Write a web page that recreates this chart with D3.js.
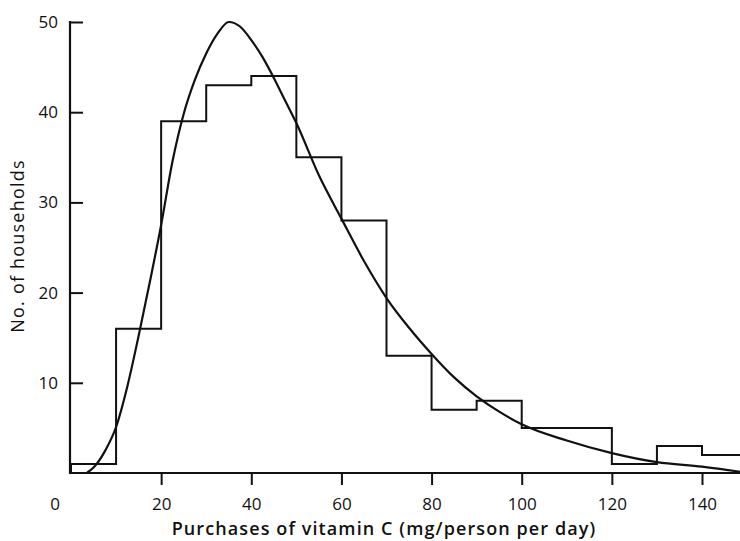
<!DOCTYPE html>
<html>
<head>
<meta charset="utf-8">
<script src="https://cdn.jsdelivr.net/npm/d3@7"></script>
<style>
  body { margin: 0; background: #fff; }
  text { font-family: "Open Sans", Lato, sans-serif; fill: #111; }
</style>
</head>
<body>
<div id="chart"></div>
<script>
// histogram bins (left edge, width 10) and household counts
var binStarts = [0, 10, 20, 30, 40, 50, 60, 70, 80, 90, 100, 110, 120, 130, 140];
var binCounts = [1, 16, 39, 43, 44, 35, 28, 13, 7, 8, 5, 5, 1, 3, 2];
var binWidth = 10;

// fitted curve, points
var curveX = [3.5, 5, 7.5, 10, 12.5, 15, 17.5, 20, 22.5, 25, 27.5, 30, 32.5, 35, 37.5, 40, 42.5, 45, 47.5, 50, 55, 60, 65, 70, 75, 80, 85, 90, 95, 100, 110, 120, 130, 140, 149];
var curveY = [0, 0.6, 2.4, 5.1, 9.6, 15.2, 21.2, 27.5, 34.5, 39.8, 43.6, 46.5, 48.7, 50, 49.5, 48.0, 46.1, 43.8, 41.3, 38.8, 33, 28.2, 23.5, 19.4, 16.1, 13.2, 10.6, 8.5, 6.8, 5.4, 3.6, 2.2, 1.2, 0.7, 0.1];

var xTicks = [20, 40, 60, 80, 100, 120, 140];
var yTicks = [10, 20, 30, 40, 50];

var width = 740, height = 541;

var svg = d3.select("#chart")
    .append("svg")
    .attr("width", width)
    .attr("height", height);

var x = d3.scaleLinear().domain([0, 140]).range([71, 702]);
var y = d3.scaleLinear().domain([0, 50]).range([473, 22]);

// step outline of the histogram
var steps = [[0, 0]];
binStarts.forEach(function(b, i) {
    steps.push([b, binCounts[i]]);
    steps.push([b + binWidth, binCounts[i]]);
});
svg.append("path")
    .attr("d", d3.line().x(d => x(d[0])).y(d => y(d[1]))(steps))
    .attr("fill", "none")
    .attr("stroke", "#111")
    .attr("stroke-width", 2);

// curve
var pts = curveX.map((v, i) => [v, curveY[i]]);
svg.append("path")
    .attr("d", d3.line().x(d => x(d[0])).y(d => y(d[1])).curve(d3.curveMonotoneX)(pts))
    .attr("fill", "none")
    .attr("stroke", "#111")
    .attr("stroke-width", 2.2);

// x axis
svg.append("line")
    .attr("x1", x(0) - 1).attr("x2", width)
    .attr("y1", y(0)).attr("y2", y(0))
    .attr("stroke", "#111").attr("stroke-width", 2);

var xAxis = svg.append("g")
    .attr("transform", "translate(0," + y(0) + ")")
    .call(d3.axisBottom(x).tickValues(xTicks).tickSize(12).tickPadding(13).tickSizeOuter(0));
xAxis.select(".domain").remove();
xAxis.selectAll(".tick line").attr("stroke", "#111").attr("stroke-width", 2);
xAxis.selectAll("text").style("font-size", "17px").attr("fill", "#111");

svg.append("text")
    .attr("x", 55).attr("y", 510)
    .attr("text-anchor", "middle")
    .style("font-size", "17px")
    .text("0");

// y axis
svg.append("line")
    .attr("x1", x(0) - 1).attr("x2", x(0) - 1)
    .attr("y1", y(50) - 1).attr("y2", y(0) + 1)
    .attr("stroke", "#111").attr("stroke-width", 2.2);

var yAxis = svg.append("g")
    .attr("transform", "translate(" + (x(0) - 1) + ",0)")
    .call(d3.axisLeft(y).tickValues(yTicks).tickSizeInner(-13).tickSizeOuter(0).tickPadding(12));
yAxis.select(".domain").remove();
yAxis.selectAll(".tick line").attr("stroke", "#111").attr("stroke-width", 2);
yAxis.selectAll("text").style("font-size", "17px").attr("fill", "#111");

// axis titles
svg.append("text")
    .attr("x", 384).attr("y", 535)
    .attr("text-anchor", "middle")
    .style("font-size", "18px")
    .style("font-weight", "600")
    .style("letter-spacing", "1.1px")
    .text("Purchases of vitamin C (mg/person per day)");

svg.append("text")
    .attr("transform", "translate(24,246) rotate(-90)")
    .attr("text-anchor", "middle")
    .style("font-size", "18px")
    .style("letter-spacing", "1.2px")
    .text("No. of households");
</script>
</body>
</html>
